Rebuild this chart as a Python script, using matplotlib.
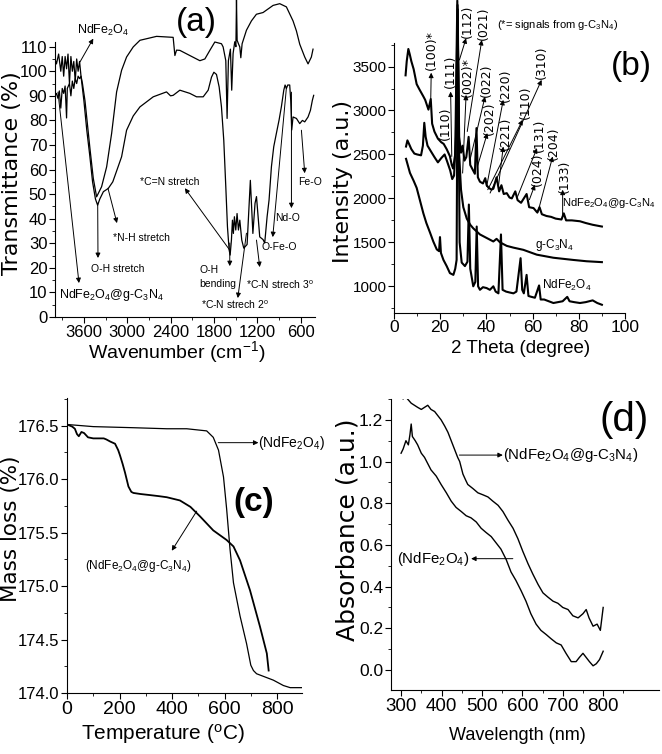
import matplotlib
matplotlib.use("Agg")
import matplotlib.pyplot as plt
from matplotlib.ticker import MultipleLocator, FormatStrFormatter

plt.rcParams["font.family"] = ["Liberation Sans", "DejaVu Sans"]
plt.rcParams["mathtext.fontset"] = "custom"
plt.rcParams["mathtext.rm"] = "Liberation Sans"
plt.rcParams["mathtext.it"] = "Liberation Sans:italic"
plt.rcParams["mathtext.bf"] = "Liberation Sans:bold"
plt.rcParams["axes.linewidth"] = 0.8

# ---- (a) FTIR ----
ftir_nd_wn = [4000, 3980, 3950, 3920, 3900, 3880, 3860, 3840, 3820, 3800, 3780, 3760, 3740, 3720,
              3700, 3680, 3660, 3640, 3620, 3585, 3516, 3470, 3424, 3355, 3285, 3216, 3147, 3078,
              3009, 2917, 2824, 2594, 2364, 2340, 2317, 2271, 2133, 1994, 1925, 1856, 1787, 1695,
              1672, 1635, 1617, 1599, 1571, 1553, 1534, 1511, 1495, 1487, 1478, 1460, 1441, 1427,
              1409, 1349, 1280, 1211, 1119, 980, 888, 796, 704, 657, 611, 542, 496, 450, 427]
ftir_nd_t = [105, 103, 107, 100, 106, 98, 106, 101, 107, 95, 106, 100, 104, 96,
             105, 100, 104, 98, 95, 88, 68.5, 56.4, 48.9, 53, 61.1, 74.7, 91.6, 100.4,
             105.8, 109.9, 112.6, 114.2, 113.8, 106.4, 108.6, 108.5, 106.4, 104.3, 105, 108.5, 111.9, 111.2,
             109.9, 104.3, 80.8, 104.3, 109, 92.3, 107.2, 112, 110, 129, 112.6, 111.2, 109.9, 105.5,
             111.2, 116.7, 120.5, 123.2, 123.9, 126.8, 127.5, 126.2, 120.5, 116.4, 111, 105.8, 103, 105.8, 109]

ftir_cn_wn = [4000, 3980, 3960, 3940, 3920, 3900, 3880, 3860, 3840, 3830, 3800, 3780, 3760, 3740,
              3720, 3700, 3680, 3660, 3640, 3600, 3560, 3520, 3480, 3440, 3410, 3380, 3330, 3263,
              3200, 3140, 3078, 3009, 2917, 2824, 2640, 2456, 2400, 2364, 2271, 2133, 2040, 1948,
              1879, 1833, 1800, 1764, 1727, 1695, 1663, 1635, 1612, 1589, 1575, 1557, 1543, 1530,
              1516, 1497, 1479, 1460, 1441, 1414, 1386, 1340, 1295, 1260, 1230, 1210, 1165, 1119,
              1096, 1063, 1036, 1003, 971, 934, 897, 865, 832, 814, 796, 777, 750, 736, 722, 704,
              657, 611, 574, 542, 496, 463, 436, 418]
ftir_cn_t = [90, 91, 89, 92, 85, 93, 91, 94, 81, 93, 95, 90, 96, 93,
             97, 95, 98, 97, 98, 88, 76, 66, 55, 48, 45.5, 48, 51, 52.3,
             55, 60, 65.2, 76, 81.8, 85.5, 89.6, 91.6, 90, 90.2, 92.3, 91, 89.6, 89.6,
             92.3, 97.6, 99.6, 98.7, 93.6, 85.5, 71.9, 53, 36.7, 27.3, 25.2, 31.3, 39.4, 34,
             40.8, 35.4, 42.1, 35.4, 39.4, 31.3, 28, 29.5, 55.6, 34, 46.3, 49, 32.6, 31.5,
             30.1, 40.8, 47.6, 61.2, 69.3, 74.8, 80.2, 85.6, 92.3, 94.4, 93, 94.4, 94.4, 88.3, 76.1, 81.4,
             80.8, 78.7, 80, 79.4, 81.4, 84.1, 88.2, 90.2]

# ---- (b) XRD ----
xrd_cn_comp_2t = [5.0, 5.5, 6.2, 6.8, 7.5, 8.5, 9.8, 11, 12.7, 13.5, 14.9, 15.9, 16.5, 17.5, 19,
                  20.4, 21.5, 22.8, 24.2, 25, 25.6, 26.5, 27.4, 28.2, 29, 29.7, 30.5, 31.3, 32.3,
                  33, 34, 35, 35.7, 36.3, 37.2, 38.5, 39.5, 40.1, 41, 42.2, 43, 44.4, 45.5, 46.5,
                  47.5, 48.8, 50, 51, 52.5, 53.5, 55, 57.4, 58.5, 60.4, 62, 63, 64, 66, 68, 70,
                  72.5, 73.5, 74.5, 77, 80.5, 83, 86, 88, 90]
xrd_cn_comp_i = [3400, 3560, 3700, 3640, 3560, 3470, 3300, 3240, 3160, 3120, 3010, 3130, 2850, 2760, 2680,
                 2640, 2620, 2560, 2480, 2380, 2340, 2500, 4250, 2700, 2520, 2600, 2430, 2470, 2700,
                 2380, 2330, 2280, 2800, 2240, 2190, 2170, 2230, 2150, 2120, 2100, 2110, 2240, 2080, 2150,
                 2050, 2060, 2010, 2000, 2080, 1980, 1950, 2050, 1900, 1890, 1840, 1900, 1820, 1800, 1790, 1770,
                 1760, 1830, 1750, 1750, 1740, 1720, 1700, 1690, 1680]

xrd_gcn_2t = [5.2, 5.8, 6.5, 7.5, 8.8, 10, 11.7, 12.5, 13.1, 13.7, 14.5, 16.1, 17.5, 19, 20.5,
              21.9, 23, 24.3, 25.2, 26, 26.8, 27.5, 28.2, 29, 30, 31.5, 33, 34.3, 37.2, 40.1,
              43, 44.4, 45.9, 48.8, 51.7, 56, 61.8, 69, 77.6, 83.4, 90]
xrd_gcn_i = [2590, 2660, 2620, 2560, 2510, 2500, 2490, 2600, 2860, 2700, 2600, 2530, 2470, 2410, 2460,
             2500, 2420, 2320, 2220, 2260, 2700, 4200, 2500, 2100, 1900, 1770, 1700, 1660, 1590, 1550,
             1510, 1540, 1500, 1460, 1440, 1415, 1360, 1325, 1300, 1285, 1275]

xrd_nd_2t = [5.2, 6.9, 8.5, 9.8, 11.2, 12.7, 14, 15.6, 17, 18.5, 19.5, 19.9, 20.3, 21.4, 22.8,
             24.2, 25.7, 26.5, 27.1, 27.6, 28.4, 29.3, 30.7, 31.8, 32.4, 33, 33.6, 34.3, 35.2,
             35.8, 36.4, 37.2, 38.5, 40.1, 41.5, 43, 44, 45.2, 46.3, 47, 48.5, 50, 51.7, 53,
             54.8, 55.5, 56.2, 57.4, 58.2, 59.5, 61, 62.8, 63.5, 65, 67, 69, 71, 73, 75, 76,
             78, 80.5, 83, 86, 88, 90]
xrd_nd_i = [2450, 2290, 2200, 2120, 1980, 1830, 1720, 1610, 1510, 1420, 1400, 1560, 1380, 1300, 1230,
            1150, 1130, 1200, 1300, 4150, 1500, 1270, 1230, 1280, 1930, 1200, 1110, 1000, 1050,
            1680, 1000, 960, 990, 980, 960, 1000, 940, 920, 1590, 960, 940, 930, 920, 940,
            1320, 960, 920, 1130, 890, 880, 870, 1010, 850, 850, 830, 810, 820, 830, 880, 830,
            820, 810, 820, 840, 810, 790]

# ---- (c) TGA ----
tga_nd_temp = [0, 100, 250, 380, 456, 532, 557, 577, 596, 608, 621, 634, 659, 684, 700, 710,
               722, 786, 824, 850, 894]
tga_nd_mass = [176.51, 176.49, 176.48, 176.47, 176.47, 176.45, 176.39, 176.27, 176.02, 175.72,
               175.34, 175.03, 174.72, 174.46, 174.26, 174.21, 174.18, 174.12, 174.07, 174.05, 174.05]

tga_cn_temp = [0, 20, 30, 38, 45, 55, 65, 80, 100, 120, 140, 150, 165, 183, 195, 202, 212, 221,
               234, 245, 253, 280, 316, 350, 380, 430, 470, 507, 557, 608, 634, 659, 697, 735, 761, 768]
tga_cn_mass = [176.51, 176.49, 176.47, 176.42, 176.40, 176.44, 176.43, 176.39, 176.38, 176.38,
               176.38, 176.37, 176.35, 176.33, 176.27, 176.22, 176.14, 176.06, 175.93, 175.88,
               175.87, 175.86, 175.85, 175.84, 175.83, 175.80, 175.74, 175.65, 175.52, 175.43,
               175.37, 175.24, 174.96, 174.62, 174.37, 174.21]

# ---- (d) UV-vis ----
uv_cn_wl = [300, 305, 310, 316, 325, 333, 341, 350, 358, 366, 374, 383, 391, 399, 408, 416, 424,
            432, 440, 445, 453, 460, 465, 478, 490, 503, 515, 527, 540, 552, 564, 577, 589, 601,
            614, 626, 639, 651, 663, 676, 688, 700, 713, 725, 738, 750, 758, 765, 775, 785, 793, 800]
uv_cn_abs = [1.33, 1.30, 1.32, 1.30, 1.28, 1.27, 1.26, 1.25, 1.26, 1.27, 1.25, 1.24, 1.22, 1.20,
             1.17, 1.14, 1.10, 1.06, 1.02, 1.00, 0.94, 0.91, 0.89, 0.87, 0.85, 0.84, 0.83, 0.81,
             0.79, 0.76, 0.72, 0.68, 0.63, 0.57, 0.51, 0.46, 0.41, 0.37, 0.35, 0.33, 0.32, 0.30,
             0.29, 0.26, 0.25, 0.27, 0.29, 0.25, 0.21, 0.22, 0.19, 0.30]

uv_nd_wl = [300, 305, 312, 318, 322, 325, 328, 335, 341, 350, 358, 366, 374, 387, 399, 412, 424,
            436, 449, 461, 473, 486, 498, 510, 523, 535, 547, 560, 572, 584, 597, 609, 621, 634,
            646, 659, 671, 684, 696, 708, 721, 733, 741, 750, 758, 766, 775, 783, 791, 800]
uv_nd_abs = [1.04, 1.06, 1.10, 1.08, 1.13, 1.18, 1.12, 1.10, 1.08, 1.04, 1.02, 0.99, 0.96, 0.93,
             0.89, 0.85, 0.81, 0.78, 0.76, 0.74, 0.73, 0.71, 0.68, 0.66, 0.64, 0.61, 0.58, 0.53,
             0.47, 0.43, 0.38, 0.33, 0.27, 0.22, 0.19, 0.17, 0.15, 0.13, 0.12, 0.08, 0.04, 0.04,
             0.06, 0.08, 0.06, 0.04, 0.02, 0.03, 0.05, 0.09]

ND = r"NdFe$_2$O$_4$"
COMP = r"NdFe$_2$O$_4$@g-C$_3$N$_4$"
GCN = r"g-C$_3$N$_4$"
WIDE = "DejaVu Sans"   # rotated labels look stretched in the original


def arrow(ax, tail, head):
    ax.annotate("", xy=head, xytext=tail,
                arrowprops=dict(arrowstyle="-|>", lw=0.7, color="k",
                                mutation_scale=7, shrinkA=0, shrinkB=0))


def style(ax, xsize, ysize):
    for s in ("top", "right"):
        ax.spines[s].set_visible(False)
    ax.tick_params(which="major", direction="out", length=4, width=0.8, pad=1.5)
    ax.tick_params(which="minor", direction="out", length=2.5, width=0.6)
    ax.tick_params(axis="x", labelsize=xsize)
    ax.tick_params(axis="y", labelsize=ysize)


fig = plt.figure(figsize=(6.62, 7.54), dpi=100)

# ---------------- (a) ----------------
ax = fig.add_axes([0.0831, 0.5796, 0.3927, 0.4204])
ax.plot(ftir_nd_wn, ftir_nd_t, color="k", lw=0.9)
ax.plot(ftir_cn_wn, ftir_cn_t, color="k", lw=0.9)
ax.set_xlim(4000, 400)
ax.set_ylim(0, 129)
style(ax, 12, 12)
ax.spines["left"].set_bounds(0, 112)
ax.xaxis.set_major_locator(MultipleLocator(600))
ax.xaxis.set_minor_locator(MultipleLocator(300))
ax.set_yticks(range(0, 111, 10))
ax.set_yticks(range(5, 111, 10), minor=True)
ax.text(0.468, -0.112, r"Wavenumber (cm$^{-1}$)", transform=ax.transAxes,
        ha="center", va="center", fontsize=14)
ax.text(-0.167, 0.453, "Transmittance (%)", transform=ax.transAxes, rotation=90,
        ha="center", va="center", fontsize=16, family=WIDE)
ax.text(2036, 119.9, "(a)", ha="center", va="center", fontsize=24)

ax.text(3336, 116.7, ND, ha="center", va="center", fontsize=9)
arrow(ax, (3654, 103.8), (3470, 113.3))
ax.text(3212, 8.9, COMP, ha="center", va="center", fontsize=9)
arrow(ax, (3959, 91.5), (3668, 13.8))
ax.text(3129, 19.5, "O-H stretch", ha="center", va="center", fontsize=7.5)
arrow(ax, (3409, 46.3), (3405, 24))
ax.text(2797, 32.1, "*N-H stretch", ha="center", va="center", fontsize=7.5)
arrow(ax, (3267, 52.4), (3142, 38.2))
ax.text(2409, 54.9, "*C=N stretch", ha="center", va="center", fontsize=7.5)
arrow(ax, (1580, 27.2), (2202, 52.4))
ax.text(1745, 16.3, "O-H\nbending", ha="center", va="center", fontsize=7.5,
        multialignment="left", linespacing=1.4)
arrow(ax, (1580, 30.1), (1580, 20.7))
ax.text(1510, 4.9, r"*C-N strech 2$^\mathrm{o}$", ha="center", va="center", fontsize=7.5)
arrow(ax, (1349, 34.1), (1469, 7.7))
ax.text(888, 13, r"*C-N strech 3$^\mathrm{o}$", ha="center", va="center", fontsize=7.5)
arrow(ax, (1210, 31.3), (1165, 20.3))
ax.text(888, 28.5, "O-Fe-O", ha="center", va="center", fontsize=7.5)
arrow(ax, (795, 93.5), (985, 32.5))
ax.text(777, 40.2, "Nd-O", ha="center", va="center", fontsize=7.5)
arrow(ax, (726, 91.5), (726, 44.3))
ax.text(473, 54.9, "Fe-O", ha="center", va="center", fontsize=7.5)
arrow(ax, (588, 76), (542, 58.5))

# ---------------- (b) ----------------
ax = fig.add_axes([0.5952, 0.5853, 0.3489, 0.4147])
ax.plot(xrd_cn_comp_2t, xrd_cn_comp_i, color="k", lw=1.5)
ax.plot(xrd_gcn_2t, xrd_gcn_i, color="k", lw=1.5)
ax.plot(xrd_nd_2t, xrd_nd_i, color="k", lw=1.5)
ax.set_xlim(0, 100)
ax.set_ylim(700, 4257)
style(ax, 12.5, 11)
ax.spines["left"].set_bounds(700, 3765)
ax.xaxis.set_major_locator(MultipleLocator(20))
ax.xaxis.set_minor_locator(MultipleLocator(10))
ax.set_yticks(range(1000, 3501, 500))
ax.set_yticks(range(750, 3751, 500), minor=True)
ax.text(0.55, -0.113, "2 Theta (degree)", transform=ax.transAxes,
        ha="center", va="center", fontsize=13.5)
ax.text(-0.221, 0.418, "Intensity (a.u.)", transform=ax.transAxes, rotation=90,
        ha="center", va="center", fontsize=16, family=WIDE)
ax.text(102.6, 3499, "(b)", ha="center", va="center", fontsize=24)
ax.text(70.9, 3973, r"(*= signals from g-C$_3$N$_4$)", ha="center", va="center", fontsize=8)

hkl = ["(100)*", "(110)", "(111)", "(112)", "(002)*", "(021)", "(022)", "(202)", "(220)",
       "(221)", "(310)", "(110)", "(131)", "(024)", "(204)", "(133)"]
hkl_pos = [(16.3, 3689), (22.1, 2858), (24.2, 3442), (31.7, 4010), (31.7, 3386), (38.7, 3992),
           (40.1, 3348), (41.1, 2913), (48.1, 3291), (48.1, 2743), (64.0, 3553), (56.7, 3092),
           (62.9, 2723), (62.2, 2326), (69.1, 2629), (73.7, 2250)]
for lab, (px, py) in zip(hkl, hkl_pos):
    ax.text(px, py, lab, rotation=90, ha="center", va="center", fontsize=9, family=WIDE)
arrow(ax, (15.9, 3130), (16.1, 3430))
arrow(ax, (25.0, 2477), (24.5, 3215))
arrow(ax, (28.3, 3575), (31.2, 3822))
arrow(ax, (29.7, 2288), (31.2, 3178))
arrow(ax, (31.7, 2761), (38.0, 3802))
arrow(ax, (32.9, 2439), (39.4, 3158))
arrow(ax, (36.1, 2363), (40.4, 2743))
arrow(ax, (40.1, 2136), (47.3, 3121))
arrow(ax, (45.2, 2136), (47.3, 2590))
arrow(ax, (41.6, 2061), (63.9, 3348))
arrow(ax, (40.6, 2099), (55.7, 2894))
arrow(ax, (53.5, 2022), (61.9, 2572))
arrow(ax, (58.6, 1985), (61.0, 2155))
arrow(ax, (62.2, 1834), (68.7, 2477))
arrow(ax, (73.0, 1795), (73.0, 2099))
ax.text(93.0, 1951, COMP, ha="center", va="center", fontsize=8)
ax.text(69.7, 1474, GCN, ha="center", va="center", fontsize=8.5)
ax.text(74.8, 1008, ND, ha="center", va="center", fontsize=8.5)

# ---------------- (c) ----------------
ax = fig.add_axes([0.1012, 0.0809, 0.3550, 0.3916])
ax.plot(tga_nd_temp, tga_nd_mass, color="k", lw=0.9)
ax.plot(tga_cn_temp, tga_cn_mass, color="k", lw=1.3)
ax.set_xlim(0, 895)
ax.set_ylim(174.0, 176.76)
style(ax, 14, 12)
ax.xaxis.set_major_locator(MultipleLocator(200))
ax.xaxis.set_minor_locator(MultipleLocator(100))
ax.yaxis.set_major_locator(MultipleLocator(0.5))
ax.yaxis.set_minor_locator(MultipleLocator(0.25))
ax.yaxis.set_major_formatter(FormatStrFormatter("%.1f"))
ax.text(0.41, -0.138, r"Temperature ($^\mathrm{o}$C)", transform=ax.transAxes,
        ha="center", va="center", fontsize=15)
ax.text(-0.240, 0.556, "Mass loss (%)", transform=ax.transAxes, rotation=90,
        ha="center", va="center", fontsize=15.5, family=WIDE)
ax.text(710, 175.78, "(c)", ha="center", va="center", fontsize=24, fontweight="bold")
ax.text(729, 176.34, "(" + ND + ")", ha="left", va="center", fontsize=10)
arrow(ax, (576, 176.34), (729, 176.34))
ax.text(272, 175.19, "(" + COMP + ")", ha="center", va="center", fontsize=8.5)
arrow(ax, (494, 175.70), (399, 175.33))

# ---------------- (d) ----------------
ax = fig.add_axes([0.5906, 0.0849, 0.4048, 0.3859])
ax.plot(uv_cn_wl, uv_cn_abs, color="k", lw=1.0)
ax.plot(uv_nd_wl, uv_nd_abs, color="k", lw=1.0)
ax.set_xlim(275, 938)
ax.set_ylim(-0.096, 1.30)
style(ax, 13.5, 12.5)
ax.set_xticks(range(300, 801, 100))
ax.set_xticks(range(350, 851, 100), minor=True)
ax.yaxis.set_major_locator(MultipleLocator(0.2))
ax.yaxis.set_minor_locator(MultipleLocator(0.1))
ax.yaxis.set_major_formatter(FormatStrFormatter("%.1f"))
ax.text(0.473, -0.156, "Wavelength (nm)", transform=ax.transAxes,
        ha="center", va="center", fontsize=13)
ax.text(-0.162, 0.549, "Absorbance (a.u.)", transform=ax.transAxes, rotation=90,
        ha="center", va="center", fontsize=18, family=WIDE)
ax.text(852.7, 1.199, "(d)", ha="center", va="center", fontsize=29)
ax.text(551.7, 1.031, "(" + COMP + ")", ha="left", va="center", fontsize=10.8)
arrow(ax, (444.3, 1.031), (551.7, 1.031))
ax.text(469.3, 0.534, "(" + ND + ")", ha="right", va="center", fontsize=10.8)
arrow(ax, (576.5, 0.534), (473.3, 0.534))

fig.savefig("out.png", dpi=100)
